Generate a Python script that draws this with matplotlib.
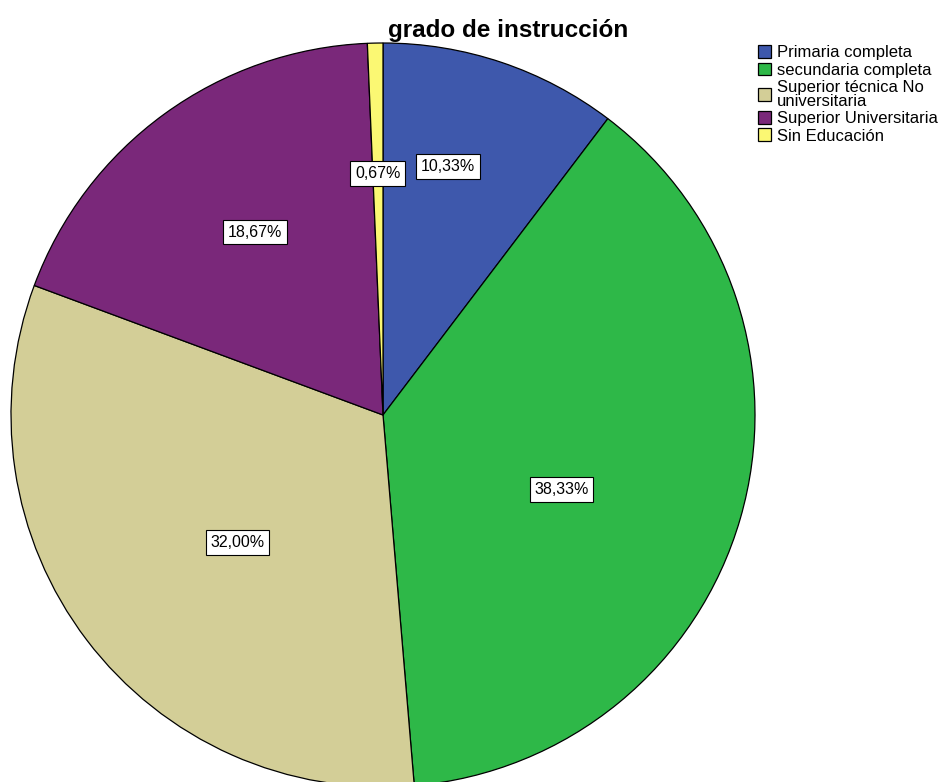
import numpy as np
import matplotlib
matplotlib.use('Agg')
import matplotlib.pyplot as plt

plt.rcParams['font.family'] = ['Liberation Sans', 'DejaVu Sans']

categories = ['Primaria completa', 'secundaria completa', 'Superior técnica No\nuniversitaria',
              'Superior Universitaria', 'Sin Educación']
values = [10.33, 38.33, 32.00, 18.67, 0.67]
labels = ['10,33%', '38,33%', '32,00%', '18,67%', '0,67%']
colors = ['#3E58AC', '#2EB848', '#D3CE97', '#7A287A', '#FBF873']
# label radius and angular shift from the wedge middle
label_r = [0.69, 0.52, 0.52, 0.6, 0.65]
label_shift = [4, -6.5, 4, -1, 0]

W, H = 947, 782
fig = plt.figure(figsize=(W / 100, H / 100), dpi=100)
cx, cy, R = 383, 415, 372
ax = fig.add_axes([(cx - R) / W, (H - cy - R) / H, 2 * R / W, 2 * R / H])

wedges, _ = ax.pie(values, colors=colors, startangle=90, counterclock=False, radius=1,
                   wedgeprops=dict(edgecolor='black', linewidth=0.9))
for w in wedges:
    w.set_clip_on(False)

for w, lab, r, s in zip(wedges, labels, label_r, label_shift):
    ang = np.deg2rad((w.theta1 + w.theta2) / 2 + s)
    ax.text(r * np.cos(ang), r * np.sin(ang), lab, ha='center', va='center', fontsize=11.5,
            bbox=dict(boxstyle='square,pad=0.3', fc='white', ec='black', lw=0.8))

ax.set_xlim(-1, 1)
ax.set_ylim(-1, 1)
ax.set_aspect('equal')
ax.axis('off')

fig.text(508 / W, 1 - 30 / H, 'grado de instrucción', ha='center', va='center',
         fontsize=17.5, fontweight='bold')

leg = fig.legend(wedges, categories, loc='upper left', bbox_to_anchor=(758 / W, 1 - 45 / H),
                 frameon=False, fontsize=12, handlelength=0.8, handleheight=0.8,
                 handletextpad=0.35, labelspacing=0.14, borderaxespad=0, borderpad=0)
for t in leg.get_texts():
    t.set_linespacing(0.88)

fig.savefig('out.png', dpi=100)
